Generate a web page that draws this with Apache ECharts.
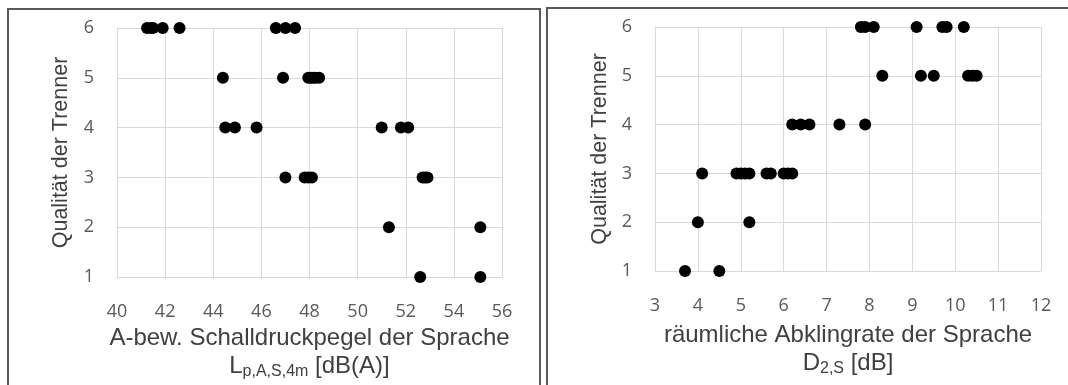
<!DOCTYPE html>
<html>
<head>
<meta charset="utf-8">
<script src="https://cdn.jsdelivr.net/npm/echarts@6/dist/echarts.min.js"></script>
<style>
  html, body { margin: 0; padding: 0; background: #fff; }
  #chart { width: 1068px; height: 385px; }
</style>
</head>
<body>
<div id="chart"></div>
<script>
// Schalldruckpegel (left panel)
const levelX = [
  41.25, 41.4, 41.5, 41.9, 42.6, 46.6, 47.0, 47.4,
  44.4, 46.9, 47.95, 48.05, 48.15, 48.25, 48.4,
  44.5, 44.9, 45.8, 51.0, 51.8, 52.1,
  47.0, 47.8, 47.95, 48.1, 52.7, 52.8, 52.9,
  51.3, 55.1,
  52.6, 55.1
];
const levelQ = [
  6, 6, 6, 6, 6, 6, 6, 6,
  5, 5, 5, 5, 5, 5, 5,
  4, 4, 4, 4, 4, 4,
  3, 3, 3, 3, 3, 3, 3,
  2, 2,
  1, 1
];

// Abklingrate (right panel)
const decayX = [
  7.8, 7.9, 8.1, 9.1, 9.7, 9.8, 10.2,
  8.3, 9.2, 9.5, 10.3, 10.4, 10.5,
  6.2, 6.4, 6.6, 7.3, 7.9,
  4.1, 4.9, 5.0, 5.1, 5.2, 5.6, 5.7, 6.0, 6.1, 6.2,
  4.0, 5.2,
  3.7, 4.5
];
const decayQ = [
  6, 6, 6, 6, 6, 6, 6,
  5, 5, 5, 5, 5, 5,
  4, 4, 4, 4, 4,
  3, 3, 3, 3, 3, 3, 3, 3, 3, 3,
  2, 2,
  1, 1
];

const yTitle = 'Qualität der Trenner';
const leftXTitle = '{t|A-bew. Schalldruckpegel der Sprache}\n{b|L}{s|p,A,S,4m}{b| [dB(A)]}';
const rightXTitle = '{t|räumliche Abklingrate der Sprache}\n{b|D}{s|2,S}{b| [dB]}';

const chart = echarts.init(document.getElementById('chart'));

const gridColor = '#d9d9d9';
const labelStyle = { color: '#595959', fontFamily: 'Open Sans', fontSize: 18 };
const nameRich = {
  t: { fontFamily: 'Liberation Sans', fontSize: 24, color: '#404040', lineHeight: 28 },
  b: { fontFamily: 'Liberation Sans', fontSize: 24, color: '#404040', lineHeight: 28 },
  s: { fontFamily: 'Liberation Sans', fontSize: 16, color: '#404040', lineHeight: 12, verticalAlign: 'bottom' }
};

function xAxis(idx, min, max, interval, title, gap) {
  return {
    type: 'value', gridIndex: idx, min: min, max: max, interval: interval,
    axisLine: { show: true, lineStyle: { color: gridColor } },
    axisTick: { show: false },
    axisLabel: Object.assign({ margin: 26 }, labelStyle),
    splitLine: { show: true, lineStyle: { color: gridColor, width: 1 } },
    name: title, nameLocation: 'middle', nameGap: gap,
    nameTextStyle: { rich: nameRich, align: 'center' }
  };
}

function yAxis(idx, gap) {
  return {
    type: 'value', gridIndex: idx, min: 1, max: 6, interval: 1,
    axisLine: { show: true, lineStyle: { color: gridColor } },
    axisTick: { show: false },
    axisLabel: Object.assign({ margin: 23 }, labelStyle),
    splitLine: { show: true, lineStyle: { color: gridColor, width: 1 } },
    name: yTitle, nameLocation: 'middle', nameGap: gap,
    nameTextStyle: { fontFamily: 'Liberation Sans', fontSize: 21.5, color: '#404040' }
  };
}

chart.setOption({
  animation: false,
  graphic: [
    { type: 'rect', shape: { x: 8, y: 9, width: 532, height: 400 }, style: { fill: 'none', stroke: '#595959', lineWidth: 2 } },
    { type: 'rect', shape: { x: 547, y: 8, width: 540, height: 400 }, style: { fill: 'none', stroke: '#595959', lineWidth: 2 } }
  ],
  grid: [
    { left: 117, right: 566, top: 28, bottom: 108 },
    { left: 655, right: 27, top: 27, bottom: 114 }
  ],
  xAxis: [
    xAxis(0, 40, 56, 2, leftXTitle, 47),
    xAxis(1, 3, 12, 1, rightXTitle, 50)
  ],
  yAxis: [
    yAxis(0, 45),
    yAxis(1, 44)
  ],
  series: [
    {
      type: 'scatter', xAxisIndex: 0, yAxisIndex: 0, symbolSize: 12,
      itemStyle: { color: '#000', opacity: 1 },
      data: levelX.map((x, i) => [x, levelQ[i]])
    },
    {
      type: 'scatter', xAxisIndex: 1, yAxisIndex: 1, symbolSize: 12,
      itemStyle: { color: '#000', opacity: 1 },
      data: decayX.map((x, i) => [x, decayQ[i]])
    }
  ]
});
</script>
</body>
</html>
